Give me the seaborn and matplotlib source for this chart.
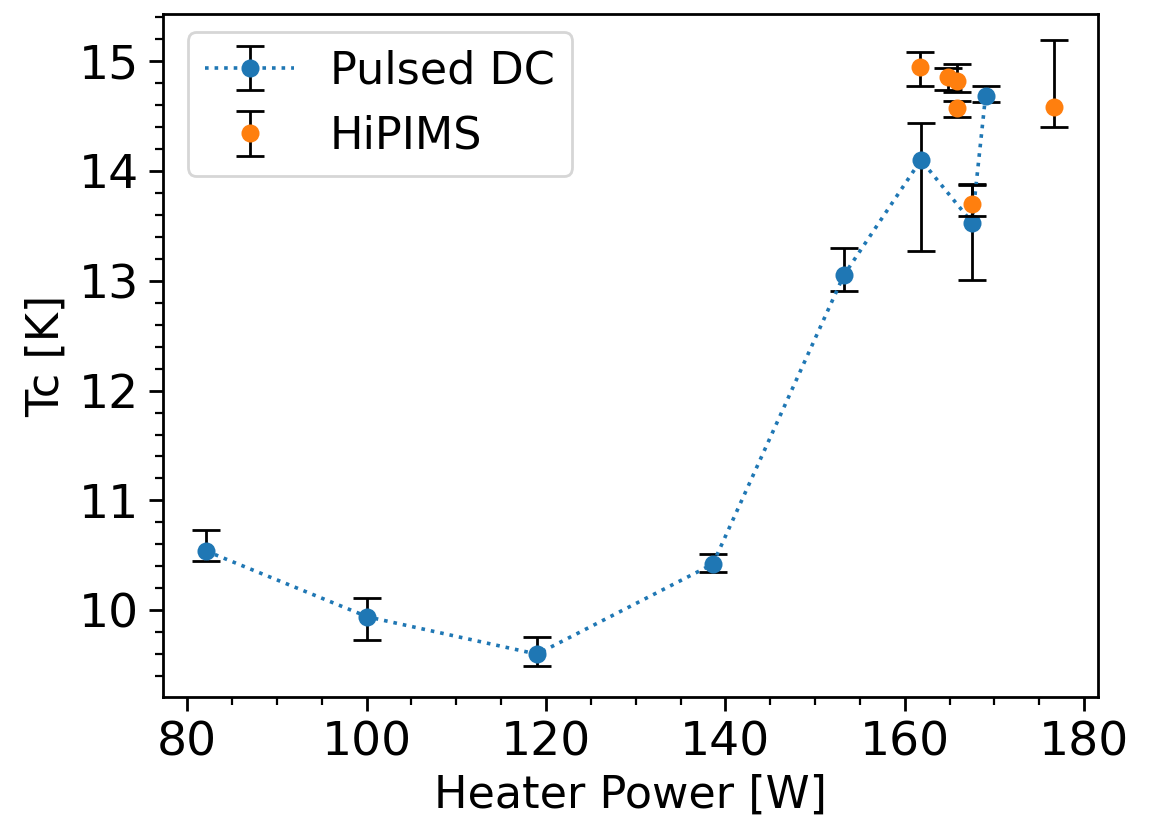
import matplotlib
matplotlib.use("Agg")
import matplotlib.pyplot as plt
import seaborn as sns
import numpy as np
import pandas as pd
from matplotlib.legend_handler import HandlerTuple
from matplotlib.lines import Line2D

# Pulsed DC data
dc_power = [82.1, 100.1, 119.0, 138.6, 153.2, 161.8, 167.5, 169.0]
dc_tc = [10.54, 9.94, 9.60, 10.42, 13.05, 14.10, 13.53, 14.68]
dc_err_low = [0.09, 0.21, 0.11, 0.07, 0.14, 0.83, 0.52, 0.05]
dc_err_high = [0.19, 0.17, 0.16, 0.09, 0.25, 0.34, 0.35, 0.09]

# HiPIMS data
hp_power = [161.7, 164.8, 165.8, 165.8, 167.5, 176.6]
hp_tc = [14.95, 14.86, 14.82, 14.57, 13.70, 14.58]
hp_err_low = [0.18, 0.12, 0.10, 0.08, 0.11, 0.18]
hp_err_high = [0.13, 0.08, 0.15, 0.07, 0.17, 0.61]

labels = ["Pulsed DC", "HiPIMS"]

sns.set_style("ticks", rc={"axes.edgecolor": "black", "xtick.color": "black",
                           "ytick.color": "black", "text.color": "black",
                           "axes.labelcolor": "black"})
plt.rcParams['font.family'] = ['DejaVu Sans']

fig = plt.figure(figsize=(5.765, 4.095), dpi=200)
ax = fig.add_axes([0.141, 0.149, 0.811, 0.834])

blue = "#1f77b4"
orange = "#ff7f0e"

df_dc = pd.DataFrame({"power": dc_power, "tc": dc_tc})
df_hp = pd.DataFrame({"power": hp_power, "tc": hp_tc})

eb1 = ax.errorbar(dc_power, dc_tc, yerr=[dc_err_low, dc_err_high], fmt='none',
                  ecolor='black', elinewidth=1.0, capsize=5, capthick=1.0, zorder=2)
sns.lineplot(data=df_dc, x="power", y="tc", sort=False, ax=ax, color=blue,
             linestyle=':', linewidth=1.3, marker='o', markersize=6.5,
             markeredgewidth=0, zorder=3)
line1 = ax.lines[-1]
eb2 = ax.errorbar(hp_power, hp_tc, yerr=[hp_err_low, hp_err_high], fmt='none',
                  ecolor='black', elinewidth=1.0, capsize=5, capthick=1.0, zorder=4)
sns.scatterplot(data=df_hp, x="power", y="tc", ax=ax, color=orange, s=42,
                linewidth=0, zorder=5)
line2 = Line2D([], [], color=orange, marker='o', linestyle='none',
               markersize=6.5, markeredgewidth=0)

ax.minorticks_on()
ax.tick_params(which='major', length=5, width=1, direction='out', labelsize=17,
               colors='black')
ax.tick_params(which='minor', length=3, width=0.8, direction='out', colors='black')
for s in ax.spines.values():
    s.set_linewidth(1.0)
    s.set_color('black')
    s.set_visible(True)

ax.set_xlabel("Heater Power [W]", fontsize=16, color='black', labelpad=3)
ax.set_ylabel("Tc [K]", fontsize=16, color='black')
ax.set_xlim(77.26, 181.5)
ax.set_ylim(9.21, 15.43)

leg = ax.legend([(eb1, line1), (eb2, line2)], labels, loc='upper left', fontsize=16,
                handler_map={tuple: HandlerTuple(ndivide=1)}, frameon=True,
                bbox_to_anchor=(0.0267, 0.9736), borderaxespad=0,
                labelspacing=0.5)
for t in leg.get_texts():
    t.set_color('black')

fig.savefig("out.png", dpi=200)
